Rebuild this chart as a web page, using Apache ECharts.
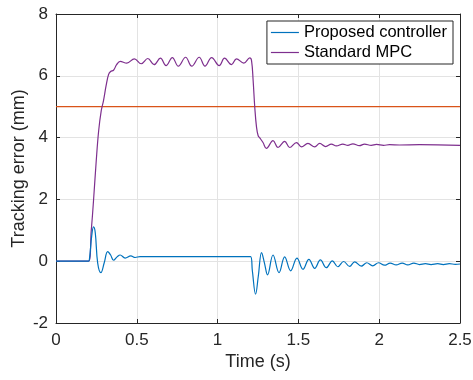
<!DOCTYPE html>
<html>
<head>
<meta charset="utf-8">
<script src="https://cdn.jsdelivr.net/npm/echarts@6/dist/echarts.min.js"></script>
<style>
  html, body { margin: 0; padding: 0; background: #fff; }
  #main { width: 473px; height: 380px; }
</style>
</head>
<body>
<div id="main"></div>
<script>
// standard MPC (purple)
const mpcTime = [0, 0.201, 0.218, 0.232, 0.249, 0.264, 0.280, 0.294, 0.310, 0.325, 0.338, 0.356, 0.375, 0.397,
  0.438, 0.485, 0.527, 0.568, 0.607, 0.646, 0.681, 0.720, 0.757, 0.802, 0.840, 0.886, 0.922, 0.963, 1.010,
  1.043, 1.086, 1.117, 1.162, 1.199, 1.210, 1.220, 1.230, 1.241, 1.251, 1.261, 1.281, 1.302, 1.343, 1.374,
  1.415, 1.446, 1.488, 1.519, 1.559, 1.601, 1.632, 1.669, 1.704, 1.735, 1.775, 1.806, 1.837, 1.878, 1.909,
  1.951, 1.983, 2.027, 2.064, 2.125, 2.249, 2.5];
const mpcErr = [0, 0, 0.98, 1.95, 3.25, 4.22, 4.87, 5.20, 5.68, 6.04, 6.14, 6.18, 6.36, 6.47,
  6.41, 6.55, 6.39, 6.56, 6.36, 6.57, 6.33, 6.59, 6.31, 6.60, 6.31, 6.60, 6.31, 6.59, 6.33,
  6.57, 6.36, 6.55, 6.41, 6.58, 6.49, 5.84, 4.98, 4.33, 4.06, 3.99, 3.84, 3.65, 3.90, 3.68,
  3.88, 3.68, 3.84, 3.70, 3.81, 3.70, 3.81, 3.71, 3.79, 3.73, 3.79, 3.75, 3.80, 3.74, 3.79,
  3.75, 3.78, 3.75, 3.77, 3.76, 3.77, 3.75];

// proposed controller (blue)
const propTime = [0, 0.201, 0.207, 0.221, 0.232, 0.243, 0.258, 0.278, 0.298, 0.320, 0.338, 0.356, 0.378, 0.397,
  0.428, 0.463, 0.490, 0.520, 0.767, 1.204, 1.215, 1.235, 1.252, 1.272, 1.290, 1.309, 1.343, 1.380, 1.415,
  1.452, 1.491, 1.528, 1.565, 1.601, 1.636, 1.673, 1.710, 1.744, 1.780, 1.817, 1.848, 1.889, 1.923, 1.960,
  1.996, 2.033, 2.068, 2.105, 2.142, 2.177, 2.214, 2.249, 2.286, 2.321, 2.362, 2.397, 2.434, 2.471, 2.5];
const propErr = [0, 0, 0.07, 0.82, 1.11, 0.92, -0.06, -0.37, -0.06, 0.31, 0.20, 0.03, 0.14, 0.20,
  0.10, 0.17, 0.12, 0.15, 0.15, 0.15, -0.31, -1.07, -0.48, 0.28, -0.06, -0.44, 0.20, -0.37, 0.14,
  -0.31, 0.10, -0.26, 0.06, -0.23, 0.04, -0.21, 0.01, -0.18, -0.01, -0.17, -0.02, -0.16, -0.05, -0.15,
  -0.05, -0.13, -0.06, -0.12, -0.06, -0.12, -0.06, -0.11, -0.08, -0.11, -0.08, -0.11, -0.08, -0.10, -0.09];

// threshold line (orange)
const limitTime = [0, 2.5];
const limitErr = [5, 5];

const xTicks = [0, 0.5, 1, 1.5, 2, 2.5];
const yTicks = [-2, 0, 2, 4, 6, 8];

const zip = (a, b) => a.map((t, i) => [t, b[i]]);

const font = "Liberation Sans, Arial, Helvetica, sans-serif";
const axisColor = "#262626";

const myChart = echarts.init(document.getElementById("main"), null, { renderer: "canvas" });

const option = {
  animation: false,
  backgroundColor: "#fff",
  grid: { left: 56, right: 13, top: 14, bottom: 57, containLabel: false, outerBoundsMode: "none" },
  legend: {
    data: ["Proposed controller", "Standard MPC"],
    orient: "vertical",
    right: 20,
    top: 21,
    padding: [3, 6, 3, 4],
    itemGap: 3,
    itemWidth: 28,
    itemHeight: 18,
    icon: "path://M0,9 L28,9 L28,10.2 L0,10.2 Z",
    backgroundColor: "#fff",
    borderColor: axisColor,
    borderWidth: 1,
    borderRadius: 0,
    textStyle: { fontFamily: font, fontSize: 16.5, color: "#000" }
  },
  xAxis: [
    {
      type: "value",
      min: xTicks[0],
      max: xTicks[xTicks.length - 1],
      interval: 0.5,
      name: "Time (s)",
      nameLocation: "middle",
      nameGap: 30,
      nameMoveOverlap: false,
      nameTextStyle: { fontFamily: font, fontSize: 18, color: "#262626" },
      axisLine: { show: true, onZero: false, lineStyle: { color: axisColor, width: 1 } },
      axisTick: { show: true, inside: true, length: 4, lineStyle: { color: axisColor } },
      axisLabel: { fontFamily: font, fontSize: 17, color: "#262626", margin: 9 },
      splitLine: { show: true, lineStyle: { color: "#e3e3e3", width: 1 } }
    },
    {
      type: "value",
      position: "top",
      min: xTicks[0],
      max: xTicks[xTicks.length - 1],
      interval: 0.5,
      axisLine: { show: true, onZero: false, lineStyle: { color: axisColor, width: 1 } },
      axisTick: { show: true, inside: true, length: 4, lineStyle: { color: axisColor } },
      axisLabel: { show: false },
      splitLine: { show: false }
    }
  ],
  yAxis: [
    {
      type: "value",
      min: yTicks[0],
      max: yTicks[yTicks.length - 1],
      interval: 2,
      name: "Tracking error (mm)",
      nameLocation: "middle",
      nameGap: 28,
      nameMoveOverlap: false,
      nameTextStyle: { fontFamily: font, fontSize: 18, color: "#262626" },
      axisLine: { show: true, onZero: false, lineStyle: { color: axisColor, width: 1 } },
      axisTick: { show: true, inside: true, length: 4, lineStyle: { color: axisColor } },
      axisLabel: { fontFamily: font, fontSize: 17, color: "#262626", margin: 8 },
      splitLine: { show: true, lineStyle: { color: "#e3e3e3", width: 1 } }
    },
    {
      type: "value",
      position: "right",
      min: yTicks[0],
      max: yTicks[yTicks.length - 1],
      interval: 2,
      axisLine: { show: true, onZero: false, lineStyle: { color: axisColor, width: 1 } },
      axisTick: { show: true, inside: true, length: 4, lineStyle: { color: axisColor } },
      axisLabel: { show: false },
      splitLine: { show: false }
    }
  ],
  series: [
    {
      name: "Proposed controller",
      type: "line",
      data: zip(propTime, propErr),
      showSymbol: false,
      symbol: "none",
      smooth: 0.4,
      lineStyle: { color: "#0072BD", width: 1.2 },
      itemStyle: { color: "#0072BD" },
      z: 4
    },
    {
      name: "Standard MPC",
      type: "line",
      data: zip(mpcTime, mpcErr),
      showSymbol: false,
      symbol: "none",
      smooth: 0.4,
      lineStyle: { color: "#7E2F8E", width: 1.2 },
      itemStyle: { color: "#7E2F8E" },
      z: 3
    },
    {
      name: "limit",
      type: "line",
      data: zip(limitTime, limitErr),
      showSymbol: false,
      symbol: "none",
      lineStyle: { color: "#D95319", width: 1.2 },
      z: 2
    }
  ]
};

option && myChart.setOption(option);
</script>
</body>
</html>
